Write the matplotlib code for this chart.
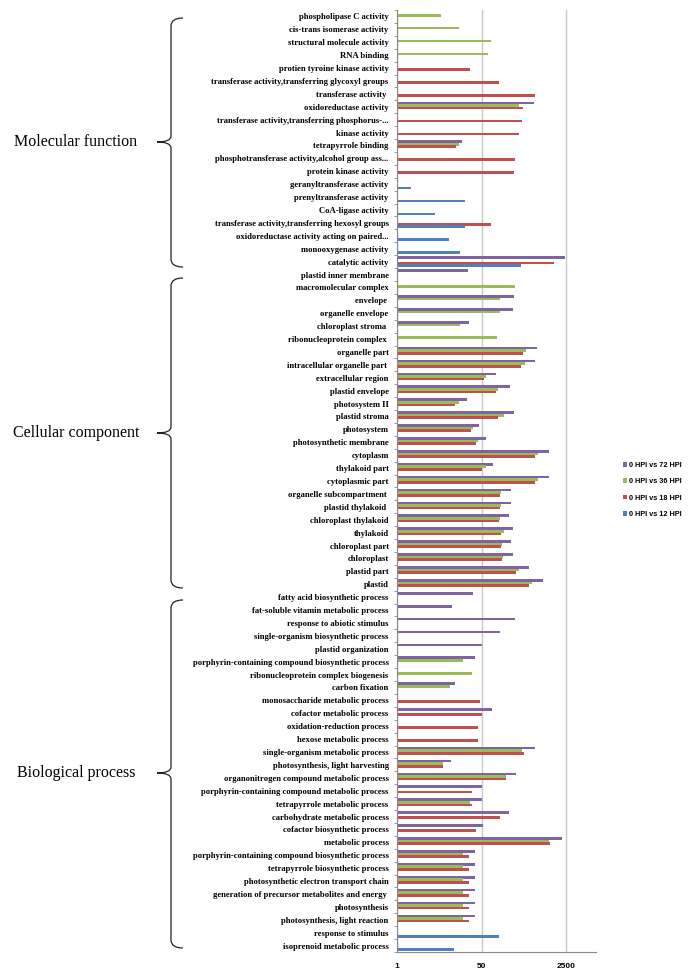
import numpy as np
import matplotlib
matplotlib.use("Agg")
import matplotlib.pyplot as plt
from matplotlib.path import Path
from matplotlib.patches import PathPatch, Patch

nan = np.nan

categories = [
    "phospholipase C activity", "cis-trans isomerase activity", "structural molecule activity",
    "RNA binding", "protien tyroine kinase activity",
    "transferase activity,transferring glycoxyl groups", "transferase activity ",
    "oxidoreductase activity", "transferase activity,transferring phosphorus-...",
    "kinase activity", "tetrapyrrole binding", "phosphotransferase activity,alcohol group ass...",
    "protein kinase activity", "geranyltransferase activity", "prenyltransferase activity",
    "CoA-ligase activity", "transferase activity,transferring hexosyl groups",
    "oxidoreductase activity acting on paired...", "monooxygenase activity", "catalytic activity",
    "plastid inner membrane", "macromolecular complex", "envelope ", "organelle envelope",
    "chloroplast stroma ", "ribonucleoprotein complex ", "organelle part",
    "intracellular organelle part ", "extracellular region", "plastid envelope", "photosystem II",
    "plastid stroma", "photosystem", "photosynthetic membrane", "cytoplasm", "thylakoid part",
    "cytoplasmic part", "organelle subcompartment ", "plastid thylakoid ", "chloroplast thylakoid",
    "thylakoid", "chloroplast part", "chloroplast", "plastid part", "plastid",
    "fatty acid biosynthetic process", "fat-soluble vitamin metabolic process",
    "response to abiotic stimulus", "single-organism biosynthetic process", "plastid organization",
    "porphyrin-containing compound biosynthetic process", "ribonucleoprotein complex biogenesis",
    "carbon fixation", "monosaccharide metabolic process", "cofactor metabolic process",
    "oxidation-reduction process", "hexose metabolic process", "single-organism metabolic process",
    "photosynthesis, light harvesting", "organonitrogen compound metabolic process",
    "porphyrin-containing compound metabolic process", "tetrapyrrole metabolic process",
    "carbohydrate metabolic process", "cofactor biosynthetic process", "metabolic process",
    "porphyrin-containing compound biosynthetic process", "tetrapyrrole biosynthetic process",
    "photosynthetic electron transport chain", "generation of precursor metabolites and energy ",
    "photosynthesis", "photosynthesis, light reaction", "response to stimulus",
    "isoprenoid metabolic process",
]

# 0 HPI vs 72 HPI
hpi72 = [nan, nan, nan, nan, nan, nan, nan, 563, nan, nan, 20.5, nan, nan, nan, nan, nan, nan, nan, nan, 2377,
         26.7, nan, 222, 219, 28.4, nan, 647, 590, 96, 190, 25.8, 222, 45, 61.5, 1112, 85, 1112, 193, 193, 176,
         219, 199, 212, 460, 842,
         33.6, 12.7, 237, 120, 50.3, 36.3, nan, 14.6, nan, 81, nan, nan, 599, 12.4, 252, 50.3, 50.3, 182, 53.5,
         2036, 36.3, 36.3, 36.3, 36.3, 36.3, 36.3, nan, nan]
# 0 HPI vs 36 HPI
hpi36 = [7.5, 17.5, 76, 69, nan, nan, nan, 285, nan, nan, 17.8, nan, nan, nan, nan, nan, nan, nan, nan, nan,
         nan, 240, 120, 120, 18.1, 104, 400, 371, 62.5, 109, 17.5, 144, 33.6, 43, 668, 62.5, 668, 125, 125, 118,
         144, 127, 135, 289, 529,
         nan, nan, nan, nan, nan, 21.5, 32.6, 11.7, nan, nan, nan, nan, 333, 8.5, 153, nan, 28.8, nan, nan,
         1130, 21.5, 21.5, 21.5, 21.5, 21.5, 21.5, nan, nan]
# 0 HPI vs 18 HPI
hpi18 = [nan, nan, nan, nan, 30, 111, 608, 338, 327, 281, 15.5, 233, 222, nan, nan, nan, 76, nan, nan, 1448,
         nan, nan, nan, nan, nan, nan, 338, 308, 55, 96, 14.6, 109, 30.6, 39.3, 608, 51.9, 608, 118, 118, 114,
         125, 125, 131, 252, 460,
         nan, nan, nan, nan, nan, nan, nan, nan, 45.8, 51.9, 43, 43, 359, 8.6, 153, 31.6, 32.6, 116, 38,
         1183, 27.5, 27.5, 27.5, 27.5, 27.5, 27.5, nan, nan]
# 0 HPI vs 12 HPI
hpi12 = [nan, nan, nan, nan, nan, nan, nan, nan, nan, nan, nan, nan, nan, 1.95, 22.8, 5.8, 22.8, 10.9, 18.4, 318,
         nan, nan, nan, nan, nan, nan, nan, nan, nan, nan, nan, nan, nan, nan, nan, nan, nan, nan, nan, nan,
         nan, nan, nan, nan, nan,
         nan, nan, nan, nan, nan, nan, nan, nan, nan, nan, nan, nan, nan, nan, nan, nan, nan, nan, nan,
         nan, nan, nan, nan, nan, nan, nan, 114, 13.7]

series = [("0 HPI vs 72 HPI", hpi72, "#8064A2", -0.3),
          ("0 HPI vs 36 HPI", hpi36, "#9BBB59", -0.1),
          ("0 HPI vs 18 HPI", hpi18, "#C0504D", 0.1),
          ("0 HPI vs 12 HPI", hpi12, "#4F81BD", 0.3)]

groups = [("Molecular function", 18, 267, 142),
          ("Cellular component", 278, 588, 433),
          ("Biological process", 600, 948, 773)]

W, H = 696, 977
fig = plt.figure(figsize=(W / 100, H / 100), dpi=100)
ax = fig.add_axes([397 / W, 1 - 952 / H, (596 - 397) / W, (952 - 10) / H])

y = np.arange(len(categories))
for name, vals, color, off in series:
    v = np.array(vals, dtype=float)
    m = ~np.isnan(v)
    ax.barh(y[m] + off, v[m] - 1, left=1, height=0.21, color=color, linewidth=0)

ax.set_xscale("log")
ax.set_xlim(1, 10 ** 4.0)
ax.set_ylim(len(categories) - 0.5, -0.5)
ax.set_xticks([1, 50, 2500])
ax.set_xticklabels(["1", "50", "2500"], fontsize=6, fontweight="bold", family="Liberation Sans")
ax.xaxis.set_minor_locator(matplotlib.ticker.NullLocator())
ax.tick_params(axis="x", length=0, pad=8)
ax.grid(axis="x", color="#c8c8c8", linewidth=1)
ax.set_axisbelow(True)

ax.set_yticks(y)
ax.set_yticklabels(categories, fontsize=6.2, fontweight="bold", family="Liberation Serif")
ax.set_yticks(np.arange(len(categories) + 1) - 0.5, minor=True)
ax.tick_params(axis="y", which="major", length=0, pad=6)
ax.tick_params(axis="y", which="minor", length=2.5, color="#888888")

for s in ["top", "right"]:
    ax.spines[s].set_visible(False)
for s in ["left", "bottom"]:
    ax.spines[s].set_color("#888888")
    ax.spines[s].set_linewidth(0.8)


def brace(top, bottom, tip):
    xr, xv, xt = 183, 171, 157
    pts = [(xr, top), (xv, top), (xv, top + 8),
           (xv, tip - 6), (xv, tip), (xt, tip),
           (xv, tip), (xv, tip + 6),
           (xv, bottom - 8), (xv, bottom), (xr, bottom)]
    codes = [Path.MOVETO, Path.CURVE3, Path.CURVE3,
             Path.LINETO, Path.CURVE3, Path.CURVE3,
             Path.CURVE3, Path.CURVE3,
             Path.LINETO, Path.CURVE3, Path.CURVE3]
    pts = [(px / W, 1 - py / H) for px, py in pts]
    fig.add_artist(PathPatch(Path(pts, codes), transform=fig.transFigure,
                             fill=False, edgecolor="#222222", linewidth=0.9))


for label, top, bottom, tip in groups:
    brace(top, bottom, tip)
    fig.text(76 / W, 1 - tip / H, label, ha="center", va="center",
             fontsize=11.5, family="Liberation Serif")

handles = [Patch(facecolor=c, edgecolor="none") for _, _, c, _ in series]
fig.legend(handles, [s[0] for s in series], loc="center left",
           bbox_to_anchor=(616 / W, 1 - 490 / H), frameon=False,
           prop={"family": "Liberation Sans", "weight": "bold", "size": 5.3},
           handlelength=0.6, handleheight=0.6, handletextpad=0.3, labelspacing=1.25)

fig.savefig("out.png", dpi=100)
